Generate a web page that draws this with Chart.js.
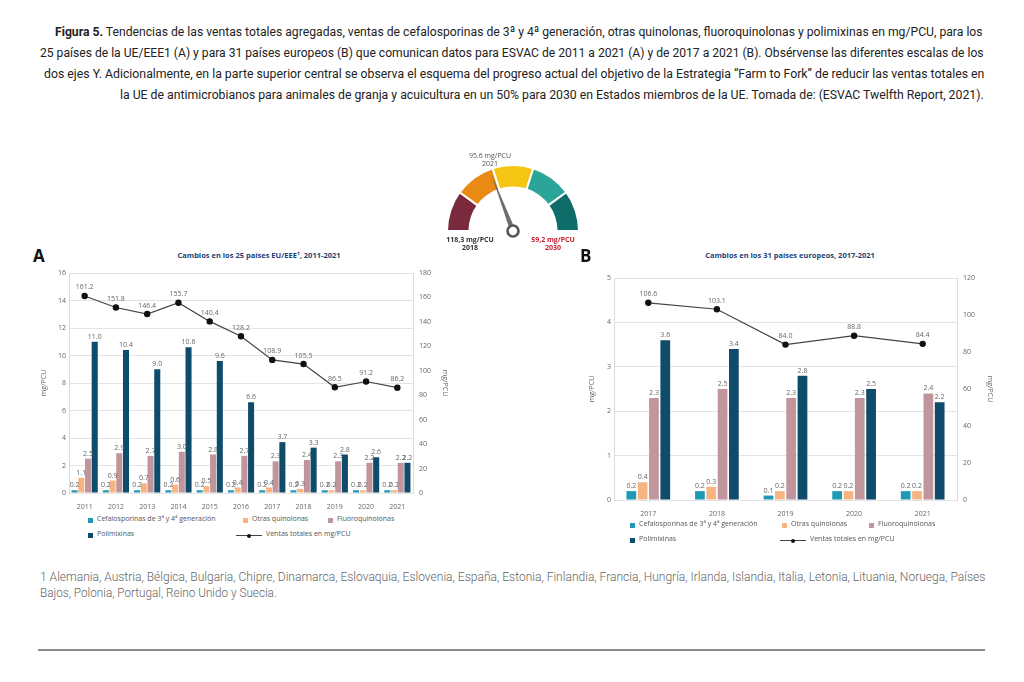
<!DOCTYPE html>
<html lang="es">
<head>
<meta charset="utf-8">
<title>Figura 5</title>
<script src="https://cdn.jsdelivr.net/npm/chart.js@4.4.1/dist/chart.umd.min.js"></script>
<style>
  html, body { margin: 0; padding: 0; background: #fff; }
  body { width: 1024px; height: 682px; position: relative; overflow: hidden; font-family: 'Open Sans', sans-serif; }
  .abs { position: absolute; }
  .fit { position: absolute; white-space: nowrap; transform-origin: 0 0; font-family: 'Roboto', sans-serif; }
  .cap { font-size: 13.6px; line-height: 16px; color: #222; }
  .cap b { font-weight: bold; }
  .ft { font-size: 12.4px; line-height: 14px; color: #666; font-weight: 300; }
  .rule { left: 38px; top: 649px; width: 947px; height: 2px; background: #8a8a8a; }
  .letter { font: bold 17px 'Open Sans', sans-serif; color: #111; }
  .ctitle { font: bold 7.5px 'Open Sans', sans-serif; color: #233f77; white-space: nowrap; transform: translateX(-50%); }
  .leg { font: 7px 'Open Sans', sans-serif; color: #555; white-space: nowrap; }
  .sq { position: absolute; width: 5px; height: 5px; }
  .gl { font: 7px 'Open Sans', sans-serif; color: #555; text-align: center; transform: translateX(-50%); line-height: 8px; white-space: nowrap; }
  .gl.red { color: #c62030; font-weight: bold; }
  .gl.dark { color: #333; font-weight: bold; }
</style>
</head>
<body>
<div class="fit cap" data-w="928" style="left:55px;top:23px"><b>Figura 5.</b> Tendencias de las ventas totales agregadas, ventas de cefalosporinas de 3ª y 4ª generación, otras quinolonas, fluoroquinolonas y polimixinas en mg/PCU, para los</div>
<div class="fit cap" data-w="944" style="left:40px;top:44px">25 países de la UE/EEE1 (A) y para 31 países europeos (B) que comunican datos para ESVAC de 2011 a 2021 (A) y de 2017 a 2021 (B). Obsérvense las diferentes escalas de los</div>
<div class="fit cap" data-w="940" style="left:44px;top:65px">dos ejes Y. Adicionalmente, en la parte superior central se observa el esquema del progreso actual del objetivo de la Estrategia “Farm to Fork” de reducir las ventas totales en</div>
<div class="fit cap" data-w="864" style="left:120px;top:86px">la UE de antimicrobianos para animales de granja y acuicultura en un 50% para 2030 en Estados miembros de la UE. Tomada de: (ESVAC Twelfth Report, 2021).</div>

<!-- gauge -->
<canvas id="gauge" class="abs" style="left:440px;top:160px;width:146px;height:80px" width="146" height="80"></canvas>
<div class="abs gl" style="left:490px;top:152px">95.6 mg/PCU<br>2021</div>
<div class="abs gl dark" style="left:470px;top:236px">118,3 mg/PCU<br>2018</div>
<div class="abs gl red" style="left:553px;top:236px">59,2 mg/PCU<br>2030</div>

<!-- A -->
<div class="abs letter" style="left:33px;top:244px">A</div>
<div class="abs ctitle" style="left:259px;top:250px">Cambios en los 25 países EU/EEE¹, 2011-2021</div>
<canvas id="chartA" class="abs" style="left:40px;top:262px;width:409px;height:251px" width="409" height="251"></canvas>
<div id="legA"></div>

<!-- B -->
<div class="abs letter" style="left:580px;top:244px">B</div>
<div class="abs ctitle" style="left:790px;top:250px">Cambios en los 31 países europeos, 2017-2021</div>
<canvas id="chartB" class="abs" style="left:588px;top:266px;width:406px;height:251px" width="406" height="251"></canvas>
<div id="legB"></div>

<div class="fit ft" data-w="945" style="left:40px;top:570px">1 Alemania, Austria, Bélgica, Bulgaria, Chipre, Dinamarca, Eslovaquia, Eslovenia, España, Estonia, Finlandia, Francia, Hungría, Irlanda, Islandia, Italia, Letonia, Lituania, Noruega, Países</div>
<div class="fit ft" data-w="237" style="left:40px;top:586px">Bajos, Polonia, Portugal, Reino Unido y Suecia.</div>
<div class="abs rule"></div>

<script>
/* Figura 5 — ventas de antimicrobianos (ESVAC) */
var YEARS_A = ['2011', '2012', '2013', '2014', '2015', '2016', '2017', '2018', '2019', '2020', '2021'];
var CEF_A   = [0.2, 0.2, 0.2, 0.2, 0.2, 0.2, 0.2, 0.2, 0.2, 0.2, 0.2];
var OTRAS_A = [1.1, 0.9, 0.7, 0.6, 0.5, 0.4, 0.4, 0.3, 0.2, 0.2, 0.2];
var FLUO_A  = [2.5, 2.9, 2.7, 3.0, 2.8, 2.7, 2.3, 2.4, 2.3, 2.2, 2.2];
var POLI_A  = [11.0, 10.4, 9.0, 10.6, 9.6, 6.6, 3.7, 3.3, 2.8, 2.6, 2.2];
var TOTAL_A = [161.2, 151.8, 146.4, 155.7, 140.4, 128.2, 108.9, 105.5, 86.5, 91.2, 86.2];

var YEARS_B = ['2017', '2018', '2019', '2020', '2021'];
var CEF_B   = [0.2, 0.2, 0.1, 0.2, 0.2];
var OTRAS_B = [0.4, 0.3, 0.2, 0.2, 0.2];
var FLUO_B  = [2.3, 2.5, 2.3, 2.3, 2.4];
var POLI_B  = [3.6, 3.4, 2.8, 2.5, 2.2];
var TOTAL_B = [106.6, 103.1, 84.0, 88.8, 84.4];

var GAUGE_SEGMENTS = [1, 1, 1, 1, 1];
var GAUGE_START = 118.3, GAUGE_END = 59.2, GAUGE_NOW = 95.6;

var SERIES = ['Cefalosporinas de 3ª y 4ª generación', 'Otras quinolonas', 'Fluoroquinolonas', 'Polimixinas', 'Ventas totales en mg/PCU'];
var COLORS = ['#1e9ab5', '#f6b483', '#c1959c', '#0f4b6b', '#333333'];
var GAUGE_COLORS = ['#7b2a3d', '#e98b12', '#f6c514', '#2aa597', '#0f6d69'];
var FONT = "'Open Sans', sans-serif";

// squeeze caption / footnote lines to the width they have in the figure
document.querySelectorAll('.fit').forEach(function (el) {
  var s = parseFloat(el.getAttribute('data-w')) / el.offsetWidth;
  el.style.transform = 'scaleX(' + s + ')';
});

// labels above bars and line points
var valueLabels = {
  id: 'valueLabels',
  afterDatasetsDraw: function (chart) {
    var ctx = chart.ctx;
    ctx.save();
    ctx.font = '7px ' + FONT;
    ctx.textAlign = 'center';
    ctx.textBaseline = 'bottom';
    chart.data.datasets.forEach(function (ds, i) {
      var meta = chart.getDatasetMeta(i);
      meta.data.forEach(function (el, j) {
        ctx.fillStyle = '#666';
        var dy = ds.type === 'line' ? 5 : 1.5;
        ctx.fillText(ds.data[j].toFixed(1), el.x, el.y - dy);
      });
    });
    ctx.restore();
  }
};

function barSet(label, data, color) {
  return { type: 'bar', label: label, data: data, backgroundColor: color, yAxisID: 'y', order: 1 };
}

function makeChart(id, years, cef, otras, fluo, poli, total, o) {
  var ds = [
    barSet(SERIES[0], cef, COLORS[0]),
    barSet(SERIES[1], otras, COLORS[1]),
    barSet(SERIES[2], fluo, COLORS[2]),
    barSet(SERIES[3], poli, COLORS[3]),
    { type: 'line', label: SERIES[4], data: total, yAxisID: 'y1', order: 0,
      borderColor: '#444', borderWidth: 1.2, pointRadius: 2.6, pointBackgroundColor: '#111', pointBorderColor: '#111', tension: 0 }
  ];
  ds.slice(0, 4).forEach(function (d) { d.categoryPercentage = o.cat; d.barPercentage = o.bar; });
  return new Chart(document.getElementById(id), {
    data: { labels: years, datasets: ds },
    plugins: [valueLabels],
    options: {
      responsive: false, animation: false,
      layout: { padding: { top: o.top, bottom: 0, left: 0, right: 0 } },
      plugins: { legend: { display: false }, tooltip: { enabled: false } },
      scales: {
        x: { grid: { display: false }, border: { display: false },
             ticks: { font: { size: 7, family: FONT }, color: '#666', padding: 2 },
             afterFit: function (s) { s.height = o.xh; } },
        y: { position: 'left', min: 0, max: o.ymax, ticks: { stepSize: o.ystep, font: { size: 7, family: FONT }, color: '#666', padding: 3 },
             grid: { color: '#e4e4e4', drawTicks: false }, border: { color: '#dcdcdc' },
             title: { display: true, text: 'mg/PCU', font: { size: 7, family: FONT }, color: '#666', padding: 0 },
             afterFit: function (s) { s.width = o.lw; } },
        y1: { position: 'right', min: 0, max: o.y1max, ticks: { stepSize: 20, font: { size: 7, family: FONT }, color: '#666', padding: 6 },
              grid: { display: false, drawTicks: false }, border: { color: '#dcdcdc' },
              title: { display: true, text: 'mg/PCU', font: { size: 7, family: FONT }, color: '#666', padding: 0 },
              afterFit: function (s) { s.width = o.rw; } }
      }
    }
  });
}

function legend(el, y0, xs) {
  var html = '';
  var pos = [[xs[0], y0], [xs[1], y0], [xs[2], y0], [xs[0], y0 + 15], [xs[3], y0 + 15]];
  SERIES.forEach(function (name, i) {
    var x = pos[i][0], y = pos[i][1];
    if (i < 4) {
      html += '<div class="sq" style="left:' + x + 'px;top:' + (y + 2) + 'px;background:' + COLORS[i] + '"></div>' +
        '<div class="abs leg" style="left:' + (x + 9) + 'px;top:' + (y - 2) + 'px">' + name + '</div>';
    } else {
      html += '<div class="abs" style="left:' + x + 'px;top:' + (y + 4) + 'px;width:26px;height:1px;background:#444"></div>' +
        '<div class="abs" style="left:' + (x + 11) + 'px;top:' + (y + 2.5) + 'px;width:4px;height:4px;border-radius:50%;background:#111"></div>' +
        '<div class="abs leg" style="left:' + (x + 30) + 'px;top:' + (y - 2) + 'px">' + name + '</div>';
    }
  });
  document.getElementById(el).innerHTML = html;
}

// needle of the Farm to Fork gauge
var needle = {
  id: 'needle',
  afterDatasetsDraw: function (chart) {
    var arc = chart.getDatasetMeta(0).data[0];
    var cx = arc.x, cy = arc.y, r = arc.outerRadius;
    var frac = (GAUGE_START - GAUGE_NOW) / (GAUGE_START - GAUGE_END);
    var a = Math.PI * (frac - 1);
    var ctx = chart.ctx, len = r * 0.93, w = 2.6;
    var px = -Math.sin(a), py = Math.cos(a);
    ctx.save();
    ctx.fillStyle = '#6d6d6d';
    ctx.beginPath();
    ctx.moveTo(cx + Math.cos(a) * len, cy + Math.sin(a) * len);
    ctx.lineTo(cx + px * w, cy + py * w);
    ctx.lineTo(cx - px * w, cy - py * w);
    ctx.closePath();
    ctx.fill();
    ctx.beginPath();
    ctx.arc(cx, cy, 5.5, 0, Math.PI * 2);
    ctx.fillStyle = '#fff';
    ctx.fill();
    ctx.lineWidth = 2.6;
    ctx.strokeStyle = '#555';
    ctx.stroke();
    ctx.restore();
  }
};

new Chart(document.getElementById('gauge'), {
  type: 'doughnut',
  data: { labels: ['', '', '', '', ''], datasets: [{ data: GAUGE_SEGMENTS, backgroundColor: GAUGE_COLORS, borderColor: '#fff', borderWidth: 2 }] },
  plugins: [needle],
  options: {
    responsive: false, animation: false, rotation: -90, circumference: 180, cutout: '66%',
    layout: { padding: { left: 5, right: 5, top: 4, bottom: 8 } },
    plugins: { legend: { display: false }, tooltip: { enabled: false } }
  }
});

makeChart('chartA', YEARS_A, CEF_A, OTRAS_A, FLUO_A, POLI_A, TOTAL_A,
  { ymax: 16, ystep: 2, y1max: 180, lw: 29, rw: 36, top: 11, xh: 20, cat: 0.86, bar: 0.9 });
makeChart('chartB', YEARS_B, CEF_B, OTRAS_B, FLUO_B, POLI_B, TOTAL_B,
  { ymax: 5, ystep: 1, y1max: 120, lw: 26, rw: 37, top: 12, xh: 17, cat: 0.66, bar: 0.86 });

legend('legA', 516, [88, 243, 328, 236]);
legend('legB', 521, [630, 782, 869, 780]);
</script>
</body>
</html>
